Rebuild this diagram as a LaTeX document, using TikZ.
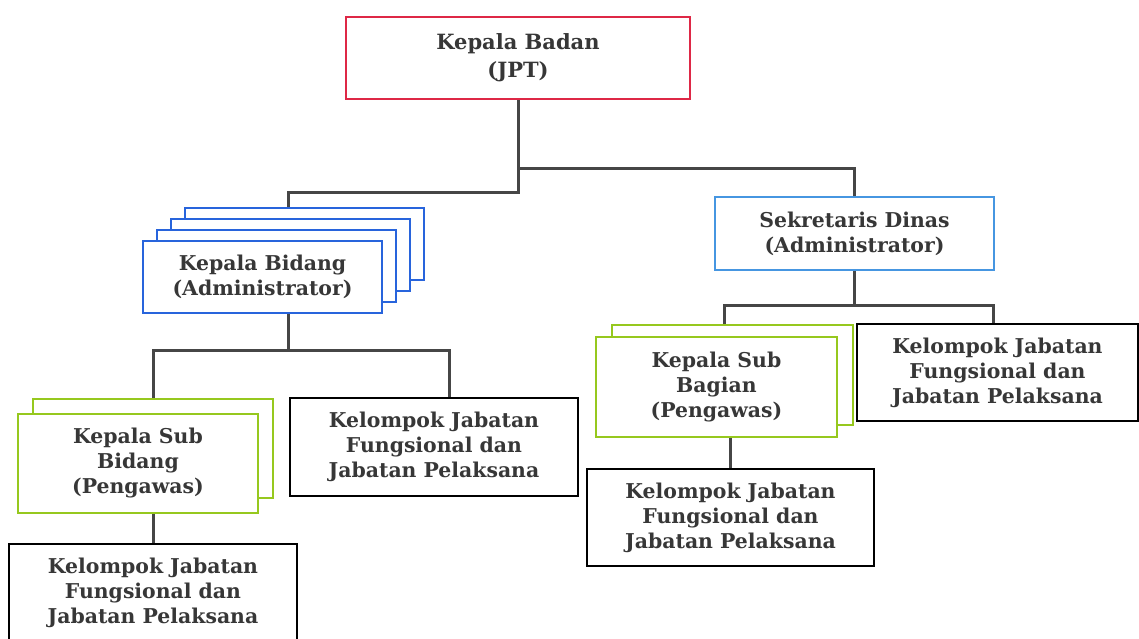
\documentclass[tikz,border=0pt]{standalone}
\usepackage{fontspec}
\setmainfont{DejaVu Serif}
\usetikzlibrary{positioning}
\definecolor{headred}{RGB}{222,40,70}
\definecolor{adminblue}{RGB}{40,100,220}
\definecolor{sekblue}{RGB}{70,150,225}
\definecolor{subgreen}{RGB}{150,200,30}
\definecolor{linkgray}{RGB}{70,70,70}
\definecolor{textgray}{RGB}{55,55,55}
\tikzset{
    unit/.style={draw, fill=white, line width=1pt, inner sep=0pt, align=center,
        font=\bfseries\fontsize{10.2}{12.5}\selectfont, text=textgray},
    link/.style={draw=linkgray, line width=1.5pt},
}

\begin{document}
\begin{tikzpicture}[x=0.5pt, y=-0.5pt]
    \useasboundingbox (0,0) rectangle (1139,638);

    % top level
    \node[unit, draw=headred, minimum width=172pt, minimum height=41pt,
        font=\bfseries\fontsize{10.5}{14}\selectfont] (head) at (518,58)
        {Kepala Badan\\(JPT)};
    \node[unit, draw=sekblue, minimum width=139.5pt, minimum height=36.5pt] (sek) at (854.5,233.5)
        {Sekretaris Dinas\\(Administrator)};

    % kepala bidang stack
    \foreach \k in {3,2,1}
        \node[unit, draw=adminblue, minimum width=119.5pt, minimum height=36pt] (bid\k)
            at (262.5+14*\k, 277-11*\k) {};
    \node[unit, draw=adminblue, minimum width=119.5pt, minimum height=36pt] (bid) at (262.5,277)
        {Kepala Bidang\\(Administrator)};

    % sub bidang stack
    \node[unit, draw=subgreen, minimum width=120pt, minimum height=49.5pt] (sbid1) at (153,448.5) {};
    \node[unit, draw=subgreen, minimum width=120pt, minimum height=49.5pt] (sbid) at (138,463.5)
        {Kepala Sub\\Bidang\\(Pengawas)};
    \node[unit, minimum width=144pt, minimum height=49pt] (kjfa) at (434,447)
        {Kelompok Jabatan\\Fungsional dan\\Jabatan Pelaksana};
    \node[unit, minimum width=144pt, minimum height=49pt] (kjfb) at (153,593)
        {Kelompok Jabatan\\Fungsional dan\\Jabatan Pelaksana};

    % sub bagian stack
    \node[unit, draw=subgreen, minimum width=120.5pt, minimum height=50pt] (sbag1) at (732.5,375) {};
    \node[unit, draw=subgreen, minimum width=120.5pt, minimum height=50pt] (sbag) at (716.5,387)
        {Kepala Sub\\Bagian\\(Pengawas)};
    \node[unit, minimum width=140.5pt, minimum height=48.5pt] (kjfc) at (997.5,372.5)
        {Kelompok Jabatan\\Fungsional dan\\Jabatan Pelaksana};
    \node[unit, minimum width=143.5pt, minimum height=48.5pt] (kjfd) at (730.5,517.5)
        {Kelompok Jabatan\\Fungsional dan\\Jabatan Pelaksana};

    % connectors
    \coordinate (hsplit) at (518,168);
    \coordinate (lsplit) at (518,192);
    \coordinate (baxis) at (288,350);
    \coordinate (sfork) at (856,305);
    \draw[link] (head.south) -- (lsplit) -| (baxis |- bid3.north);
    \draw[link] (hsplit) -| (sek.north);
    \draw[link] (baxis |- bid.south) -- (baxis);
    \draw[link] (sbid1.north) |- (baxis) -| ([xshift=7.5pt]kjfa.north);
    \draw[link] (kjfb.north |- sbid.south) -- (kjfb.north);
    \draw[link] (sek.south) -- (sek.south |- sfork);
    \draw[link] ([xshift=-4pt]sbag1.north) |- (sfork) -| ([xshift=-2pt]kjfc.north);
    \draw[link] (kjfd.north |- sbag.south) -- (kjfd.north);
\end{tikzpicture}
\end{document}
